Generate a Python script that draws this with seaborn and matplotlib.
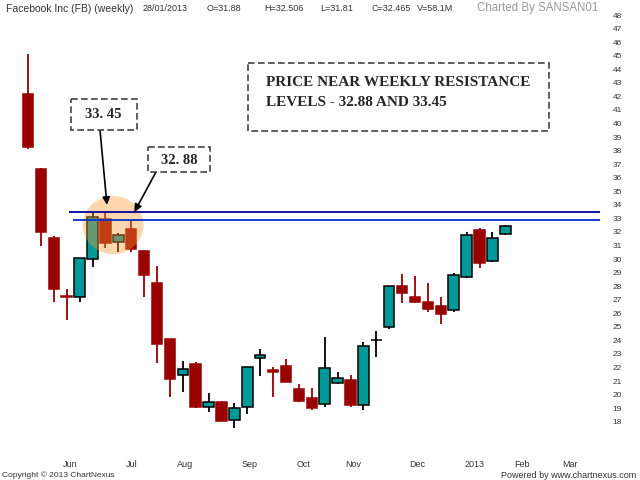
import numpy as np
import pandas as pd
import seaborn as sns
import matplotlib.pyplot as plt
from matplotlib.patches import Rectangle, Ellipse

# Weekly candles (week 0 = IPO week, May 2012)
opens = [42.17, 36.64, 31.58, 27.27, 27.23, 29.99, 32.93, 31.28, 32.22, 30.62,
         28.21, 24.08, 21.45, 22.24, 19.07, 19.48, 18.11, 19.07, 22.73, 21.80,
         22.14, 20.44, 19.73, 19.29, 20.84, 21.08, 19.22, 24.00, 24.97, 28.04,
         27.18, 26.81, 26.54, 26.25, 28.70, 32.14, 29.84, 31.88]
highs = [45.12, 36.70, 31.73, 27.77, 30.10, 33.42, 33.45, 31.95, 32.88, 30.70,
         29.49, 24.10, 22.48, 22.43, 20.10, 19.50, 19.41, 22.04, 23.37, 22.07,
         22.63, 20.76, 20.47, 24.23, 21.70, 21.45, 23.91, 24.72, 28.04, 28.90,
         28.77, 28.26, 27.18, 28.95, 31.97, 32.27, 31.97, 32.506]
lows = [38.12, 30.99, 26.86, 25.50, 26.86, 29.44, 30.80, 30.55, 30.55, 27.23,
        22.31, 19.85, 20.22, 19.00, 18.75, 18.05, 17.52, 18.58, 21.38, 19.85,
        20.91, 19.48, 18.87, 19.11, 20.80, 19.11, 18.87, 22.76, 24.84, 26.74,
        26.78, 26.12, 25.19, 26.12, 28.60, 29.32, 29.80, 31.81]
closes = [38.29, 32.00, 27.79, 27.20, 30.06, 33.13, 31.16, 31.77, 30.72, 28.80,
          23.74, 21.13, 21.87, 19.07, 19.44, 18.08, 19.04, 22.04, 22.93, 21.70,
          20.91, 19.56, 19.04, 21.99, 21.20, 19.24, 23.61, 24.03, 28.04, 27.52,
          26.86, 26.30, 25.93, 28.80, 31.75, 29.69, 31.58, 32.465]

month_labels = ['Jun', 'Jul', 'Aug', 'Sep', 'Oct', 'Nov', 'Dec', '2013', 'Feb', 'Mar']
month_pos = [3.26, 8.06, 12.17, 17.2, 21.4, 25.2, 30.2, 34.65, 38.3, 42.0]
price_ticks = list(range(18, 49))

resistance_hi = 33.45
resistance_lo = 32.88

header = ['28/01/2013', 'O=31.88', 'H=32.506', 'L=31.81', 'C=32.465', 'V=58.1M']
header_x = [143, 207, 264, 320, 372, 417]

df = pd.DataFrame({'open': opens, 'high': highs, 'low': lows, 'close': closes})
df['week'] = np.arange(len(df))
df['up'] = df['close'] >= df['open']

TEAL = '#009999'
RED = '#990000'

sns.set_style('white')
plt.rcParams['font.family'] = ['Liberation Sans', 'DejaVu Sans']

fig = plt.figure(figsize=(6.4, 4.8), dpi=100)
# main axes: 0..600 px wide, 5..452 px tall
ax = fig.add_axes([0, 28 / 480, 600 / 640, 447 / 480])
ax.set_xlim(-28 / 12.9, (600 - 28) / 12.9)
ax.set_ylim(48 - 437 / 13.56, 48 + 10 / 13.56)

# wicks
ax.vlines(df['week'], df['low'], df['high'],
          colors=np.where(df['up'], 'black', RED), lw=1.3, zorder=2)
# bodies
body = (df['close'] - df['open']).abs().clip(lower=0.03)
ax.bar(df['week'], body, bottom=df[['open', 'close']].min(axis=1), width=0.82,
       color=np.where(df['up'], TEAL, RED),
       edgecolor=np.where(df['up'], 'black', RED), lw=1.1, zorder=3)

# highlight circle around the resistance test
ax.add_patch(Ellipse((6.6, 32.5), 4.7, 4.3, fc='#FF9933', ec='none', alpha=0.4, zorder=4))

# resistance lines
xmax = ax.get_xlim()[1]
ax.hlines(resistance_hi, 3.18, xmax, color='#000099', lw=1.3, zorder=5)
ax.hlines(resistance_lo, 3.5, xmax, color='#0033CC', lw=1.3, zorder=5)

sns.despine(ax=ax, left=True, bottom=True, right=True, top=True)
ax.yaxis.tick_right()
ax.set_yticks(price_ticks)
ax.set_yticklabels([str(t) for t in price_ticks])
ax.set_xticks(month_pos)
ax.set_xticklabels(month_labels)
ax.tick_params(axis='y', length=0, pad=9, labelsize=6, labelcolor='#333333')
ax.tick_params(axis='x', length=0, pad=6, labelsize=6.5, labelcolor='#333333')
ax.grid(False)

# overlay in pixel coordinates for notes and header
ov = fig.add_axes([0, 0, 1, 1], facecolor='none')
ov.set_xlim(0, 640)
ov.set_ylim(480, 0)
ov.axis('off')

ov.text(6, 8.5, 'Facebook Inc (FB) (weekly)', fontsize=7.5, color='#333333', va='center')
for s, x in zip(header, header_x):
    ov.text(x, 8.5, s, fontsize=6.5, color='#333333', va='center')
ov.text(477, 8.5, 'Charted By SANSAN01', fontsize=8.3, color='#999999', va='center')
ov.text(2, 475, 'Copyright \u00a9 2013 ChartNexus', fontsize=6, color='#333333', va='center')
ov.text(636, 475, 'Powered by www.chartnexus.com', fontsize=6.5, color='#333333',
        va='center', ha='right')

serif = ['Liberation Serif', 'DejaVu Serif']
box_kw = dict(fc='white', ec='#444444', lw=1.2, ls=(0, (4, 2)), zorder=6)

ov.add_patch(Rectangle((248, 63), 301, 68, **box_kw))
ov.text(266, 83, 'PRICE NEAR WEEKLY RESISTANCE', family=serif, weight='bold',
        fontsize=11, va='center', zorder=7)
ov.text(266, 102, 'LEVELS - 32.88 AND 33.45', family=serif, weight='bold',
        fontsize=11, va='center', zorder=7)

ov.add_patch(Rectangle((71, 99), 66, 31, **box_kw))
ov.text(103, 115, '33. 45', family=serif, weight='bold', fontsize=10.5,
        ha='center', va='center', zorder=7)
ov.add_patch(Rectangle((148, 147), 62, 25, **box_kw))
ov.text(179, 160, '32. 88', family=serif, weight='bold', fontsize=10.5,
        ha='center', va='center', zorder=7)

arrow = dict(arrowstyle='-|>', color='black', lw=1.2, mutation_scale=11,
             shrinkA=0, shrinkB=0)
ov.annotate('', xy=(6.12, resistance_hi + 0.55), xycoords=ax.transData,
            xytext=(100, 130), textcoords='data', arrowprops=arrow)
ov.annotate('', xy=(8.25, resistance_lo + 0.6), xycoords=ax.transData,
            xytext=(156, 172), textcoords='data', arrowprops=arrow)

fig.savefig('out.png', dpi=100)
